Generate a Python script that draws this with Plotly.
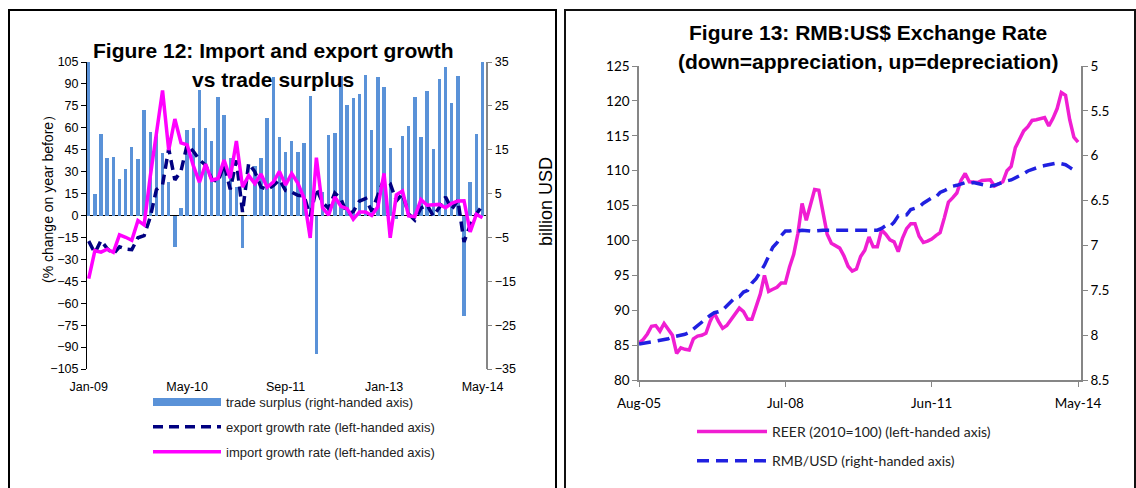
import pandas as pd
import plotly.graph_objects as go

W, H = 1136, 488
ARIAL = "Arial, 'Liberation Sans', sans-serif"
CALIBRI = "Lato, 'Noto Sans', sans-serif"

# ---- Figure 12: China trade, Jan-2009 .. May-2014 ----
months_12 = pd.date_range("2009-01-01", "2014-05-01", freq="MS").strftime("%b-%y").tolist()
ticks_12 = ["Jan-09", "May-10", "Sep-11", "Jan-13", "May-14"]

trade_surplus = [  # billion USD
    39.1, 4.8, 18.6, 13.1, 13.4, 8.3, 10.6, 15.7, 12.9, 24.0, 19.1, 18.4,
    14.2, 7.6, -7.2, 1.7, 19.5, 20.0, 28.7, 20.0, 16.9, 27.1, 22.9, 13.1,
    6.5, -7.3, 0.1, 11.4, 13.1, 22.3, 31.5, 17.8, 14.5, 17.0, 14.5, 16.5,
    27.3, -31.5, 5.4, 18.4, 18.7, 31.7, 25.1, 26.7, 27.7, 32.0, 19.6, 31.6,
    29.2, 15.3, -0.9, 18.2, 20.4, 27.1, 17.8, 28.5, 15.2, 31.1, 33.8, 25.6,
    31.9, -23.0, 7.7, 18.5, 35.9,
]
export_growth = [  # % y/y
    -17.5, -25.7, -17.1, -22.6, -26.4, -21.4, -23.0, -23.4, -15.2, -13.8, -1.2, 17.7,
    21.0, 45.7, 24.3, 30.5, 48.5, 43.9, 38.1, 34.4, 25.1, 22.9, 34.9, 17.9,
    37.7, 2.3, 35.8, 29.9, 19.4, 17.9, 20.4, 24.5, 17.1, 15.9, 13.8, 13.4,
    -0.5, 18.4, 8.9, 4.9, 15.3, 11.3, 1.0, 2.7, 9.9, 11.6, 2.9, 14.1,
    25.0, 21.8, 10.0, 14.7, 1.0, -3.1, 5.1, 7.2, -0.3, 5.6, 12.7, 4.3,
    10.6, -18.1, -6.6, 0.9, 7.0,
]
import_growth = [  # % y/y
    -43.1, -24.1, -25.1, -23.0, -25.2, -13.2, -14.9, -17.0, -3.5, -6.4, 26.7, 55.9,
    85.5, 44.7, 66.0, 49.7, 48.3, 34.1, 22.7, 35.2, 24.1, 25.3, 37.9, 25.6,
    51.0, 19.4, 27.3, 21.8, 28.4, 19.3, 22.9, 30.2, 20.9, 28.7, 22.1, 11.8,
    -15.3, 39.6, 5.3, 0.3, 12.7, 6.3, 4.7, -2.6, 2.4, 2.4, 0.0, 6.0,
    28.8, -15.2, 14.1, 16.8, -0.3, -0.7, 10.9, 7.0, 7.4, 7.6, 5.3, 8.3,
    10.0, 10.1, -11.3, 0.8, -1.6,
]

# ---- Figure 13: exchange rate, Aug-2005 .. May-2014 ----
months_13 = pd.date_range("2005-08-01", "2014-05-01", freq="MS").strftime("%b-%y").tolist()
ticks_13 = ["Aug-05", "Jul-08", "Jun-11", "May-14"]

reer = [  # 2010 = 100
    85.3, 85.8, 86.6, 87.7, 87.8,
    87.0, 88.1, 87.2, 86.4, 83.8, 84.6, 84.4, 84.3, 85.9, 86.3, 86.4, 86.7,
    88.4, 89.6, 88.4, 87.4, 87.8, 88.6, 89.4, 90.3, 89.8, 88.7, 88.7, 90.4,
    92.3, 95.0, 92.7, 93.0, 93.3, 93.9, 93.9, 96.2, 98.0, 101.0, 105.3, 102.9,
    105.2, 107.3, 107.2, 104.2, 100.9, 99.6, 99.3, 98.9, 97.8, 96.3, 95.6, 95.9,
    97.7, 98.6, 100.5, 99.1, 99.1, 101.5, 100.9, 100.1, 99.8, 98.4, 100.3, 101.7,
    102.4, 102.4, 100.6, 99.7, 99.9, 100.2, 100.7, 101.1, 103.2, 105.5, 106.1, 106.8,
    108.6, 109.6, 108.4, 108.4, 108.3, 108.6, 108.7, 108.7, 107.8, 108.1, 108.4, 110.0,
    110.6, 113.3, 114.4, 115.7, 116.3, 117.2, 117.3, 117.5, 117.6, 116.4, 117.5, 118.9,
    121.2, 120.8, 117.3, 114.8, 114.1,
]
rmb_usd = [  # CNY per USD
    8.10, 8.09, 8.09, 8.08, 8.07,
    8.06, 8.05, 8.04, 8.02, 8.01, 8.00, 7.99, 7.97, 7.93, 7.90, 7.86, 7.82,
    7.78, 7.75, 7.74, 7.72, 7.67, 7.63, 7.58, 7.57, 7.52, 7.50, 7.42, 7.37,
    7.30, 7.22, 7.12, 7.02, 6.97, 6.89, 6.84, 6.84, 6.83, 6.84, 6.83, 6.84,
    6.84, 6.84, 6.83, 6.83, 6.83, 6.83, 6.83, 6.83, 6.83, 6.83, 6.83, 6.83,
    6.83, 6.83, 6.83, 6.83, 6.83, 6.81, 6.78, 6.79, 6.74, 6.67, 6.66, 6.66,
    6.60, 6.58, 6.57, 6.53, 6.50, 6.47, 6.46, 6.41, 6.39, 6.36, 6.34, 6.33,
    6.31, 6.30, 6.31, 6.30, 6.31, 6.32, 6.33, 6.34, 6.33, 6.31, 6.29, 6.28,
    6.27, 6.25, 6.23, 6.20, 6.17, 6.15, 6.14, 6.12, 6.11, 6.10, 6.09, 6.08,
    6.09, 6.10, 6.13, 6.16, 6.17,
]


def fx(p):  # pixel column -> paper fraction
    return p / W


def fy(p):  # pixel row (from top) -> paper fraction
    return 1 - p / H


x12 = list(range(len(months_12)))
x13 = list(range(len(months_13)))

BAR_BLUE = "#5A92D8"
NAVY = "#000080"
MAGENTA = "#FF00FF"
PINK = "#F01ED2"
BLUE = "#2020E0"
GREY = "#868686"

fig = go.Figure()

# Figure 12 traces (bars on the right-hand axis, lines on the left-hand axis)
fig.add_trace(go.Bar(x=x12, y=trade_surplus, xaxis="x", yaxis="y", width=0.55,
                     marker=dict(color=BAR_BLUE, line=dict(width=0)),
                     showlegend=False, hoverinfo="skip"))
fig.add_trace(go.Scatter(x=[None], y=[None], xaxis="x", yaxis="y", mode="lines",
                         line=dict(color=BAR_BLUE, width=8),
                         name="trade surplus (right-handed axis)",
                         legend="legend", legendgroup="g1"))
fig.add_trace(go.Scatter(x=x12, y=export_growth, xaxis="x", yaxis="y2", mode="lines",
                         line=dict(color=NAVY, width=3.5, dash="10px,6px"),
                         name="export growth rate (left-handed axis)",
                         legend="legend", legendgroup="g2"))
fig.add_trace(go.Scatter(x=x12, y=import_growth, xaxis="x", yaxis="y2", mode="lines",
                         line=dict(color=MAGENTA, width=3.5),
                         name="import growth rate (left-handed axis)",
                         legend="legend", legendgroup="g3"))

# Figure 13 traces
fig.add_trace(go.Scatter(x=x13, y=reer, xaxis="x2", yaxis="y3", mode="lines",
                         line=dict(color=PINK, width=3.5),
                         name="REER (2010=100) (left-handed axis)",
                         legend="legend2", legendgroup="h1"))
fig.add_trace(go.Scatter(x=x13, y=rmb_usd, xaxis="x2", yaxis="y4", mode="lines",
                         line=dict(color=BLUE, width=3.5, dash="12px,7px"),
                         name="RMB/USD (right-handed axis)",
                         legend="legend2", legendgroup="h2"))

tick12 = [months_12.index(t) for t in ticks_12]
tick13 = [months_13.index(t) for t in ticks_13]

axis_font = dict(family=ARIAL, size=12.5, color="#000")
cal_font = dict(family=CALIBRI, size=13.5, color="#000")

fig.update_layout(
    template="none",
    width=W, height=H,
    margin=dict(l=0, r=0, t=0, b=0),
    paper_bgcolor="white", plot_bgcolor="rgba(0,0,0,0)",
    bargap=0,
    xaxis=dict(domain=[fx(87), fx(485.5)], anchor="y", range=[-0.28, 64.49],
               tickmode="array", tickvals=tick12, ticktext=ticks_12,
               showline=False, showgrid=False, zeroline=False, ticks="",
               ticklabelstandoff=8, tickfont=axis_font, automargin=False),
    yaxis=dict(domain=[fy(369), fy(62)], anchor="x", side="right",
               range=[-35, 35], tick0=-35, dtick=10,
               showline=True, linecolor=GREY, linewidth=1.5,
               ticks="outside", ticklen=5, tickcolor=GREY,
               showgrid=False, zeroline=True, zerolinecolor="#000", zerolinewidth=1,
               tickfont=axis_font, automargin=False),
    yaxis2=dict(overlaying="y", anchor="x", side="left",
                range=[-105, 105], tick0=-105, dtick=15,
                showline=True, linecolor="#000", linewidth=1,
                ticks="outside", ticklen=5, tickcolor="#000",
                showgrid=False, zeroline=False, tickfont=axis_font, automargin=False),
    xaxis2=dict(domain=[fx(639), fx(1081)], anchor="y3", range=[0, 105.7],
                tickmode="array", tickvals=tick13, ticktext=ticks_13,
                showline=True, linecolor=GREY, linewidth=1.5,
                ticks="outside", ticklen=5, tickcolor=GREY, ticklabelstandoff=5,
                showgrid=False, zeroline=False, tickfont=cal_font, automargin=False),
    yaxis3=dict(domain=[fy(380), fy(66)], anchor="x2", range=[80, 125], dtick=5,
                showline=True, linecolor=GREY, linewidth=1.5,
                ticks="outside", ticklen=5, tickcolor=GREY,
                showgrid=False, zeroline=False, tickfont=cal_font, automargin=False),
    yaxis4=dict(overlaying="y3", anchor="x2", side="right", range=[8.5, 5],
                tick0=5, dtick=0.5,
                showline=True, linecolor=GREY, linewidth=1.5,
                ticks="outside", ticklen=5, tickcolor=GREY,
                showgrid=False, zeroline=False, tickfont=cal_font, automargin=False),
    legend=dict(x=fx(148), y=fy(387), xanchor="left", yanchor="top",
                bgcolor="rgba(0,0,0,0)", borderwidth=0,
                font=dict(family=ARIAL, size=13, color="#222"),
                traceorder="grouped", tracegroupgap=5, itemwidth=68),
    legend2=dict(x=fx(692), y=fy(416), xanchor="left", yanchor="top",
                 bgcolor="rgba(0,0,0,0)", borderwidth=0,
                 font=dict(family=CALIBRI, size=14, color="#222"),
                 traceorder="grouped", tracegroupgap=8, itemwidth=70),
    showlegend=True,
)

# Titles and axis titles
title_font = dict(family=ARIAL, size=21, color="#000")
texts = [
    ("<b>Figure 12: Import and export growth</b>", 273, 50.5, 0, title_font),
    ("<b>vs trade surplus</b>", 273, 79.5, 0, title_font),
    ("<b>Figure 13: RMB:US$ Exchange Rate</b>", 868, 32.7, 0, title_font),
    ("<b>(down=appreciation, up=depreciation)</b>", 868, 61.7, 0, title_font),
    ("(% change on year before\uff09", 48, 196, -90, dict(family=ARIAL, size=14, color="#000")),
    ("billion USD", 546, 202, -90, dict(family=ARIAL, size=18, color="#000")),
]
for txt, px_, py_, ang, fnt in texts:
    fig.add_annotation(text=txt, x=fx(px_), y=fy(py_), xref="paper", yref="paper",
                       xanchor="center", yanchor="middle", textangle=ang,
                       showarrow=False, font=fnt)

# Panel frames
fig.add_shape(type="rect", xref="paper", yref="paper",
              x0=fx(9), x1=fx(556), y0=-0.1, y1=fy(10),
              line=dict(color="#000", width=2), layer="above")
fig.add_shape(type="rect", xref="paper", yref="paper",
              x0=fx(565), x1=fx(1135), y0=-0.1, y1=fy(10),
              line=dict(color="#111", width=2), layer="above")

fig.write_html("out.html")
